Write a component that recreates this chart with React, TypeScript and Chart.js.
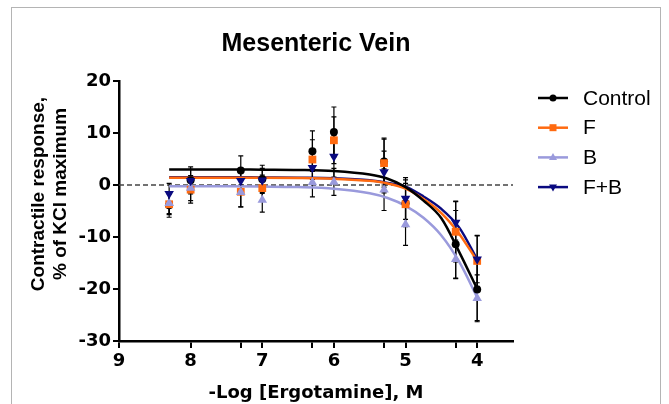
import React, { useEffect, useRef } from 'react';
import { Chart, registerables } from 'chart.js';

Chart.register(...registerables);

// ---- data ----
const doses = [8.3, 8, 7.3, 7, 6.3, 6, 5.3, 5, 4.3, 4];

const controlMean = [-3.9, 0.9, 2.8, 1.1, 6.5, 10.2, 4.5, -3.5, -11.4, -20.1];
const controlErr = [2.3, 2.6, 2.8, 2.7, 3.9, 4.8, 4.5, 4.5, 6.5, 6.0];
const fMean = [-3.7, -0.9, -1.3, -0.6, 4.9, 8.6, 4.2, -3.7, -9.0, -14.6];
const fErr = [2.0, 2.6, 2.9, 2.5, 3.8, 4.5, 4.6, 4.0, 5.8, 4.9];
const bMean = [-3.5, -0.6, -1.4, -2.9, 0.5, 0.6, -0.9, -7.6, -14.3, -21.8];
const bErr = [2.0, 2.4, 2.8, 2.3, 2.8, 2.6, 4.0, 4.0, 3.7, 4.5];
const fbMean = [-1.7, 0.8, 0.8, 0.9, 3.3, 5.5, 2.5, -2.6, -7.2, -14.3];
const fbErr = [2.0, 2.2, 2.3, 2.3, 3.0, 4.0, 4.0, 4.0, 4.1, 4.5];

// fitted curves
const fitX = [8.3, 7.5, 7, 6.5, 6, 5.5, 5.25, 5, 4.75, 4.5, 4.25, 4];
const controlFit = [3.0, 3.0, 2.95, 2.9, 2.7, 2.0, 1.2, -0.4, -3.0, -6.4, -12.9, -20.0];
const fFit = [1.4, 1.4, 1.4, 1.35, 1.2, 0.8, 0.3, -0.7, -2.7, -5.4, -9.4, -14.6];
const bFit = [-0.25, -0.25, -0.3, -0.4, -0.7, -1.6, -2.5, -4.0, -6.3, -9.7, -14.8, -21.6];
const fbFit = [1.5, 1.5, 1.45, 1.4, 1.3, 0.9, 0.4, -0.3, -2.2, -4.6, -8.2, -14.3];

const seriesNames = ['Control', 'F', 'B', 'F+B'];
const xTickValues = [9, 8, 7.3, 7, 6.3, 6, 5.3, 5, 4.3, 4];
const yTickValues = [-30, -20, -10, 0, 10, 20];

const xTitle = '-Log [Ergotamine], M';
const yTitle = ['Contractile response,', '% of KCl maximum'];
const chartTitle = 'Mesenteric Vein';

// ---- styles ----
const colors = ['#000000', '#FF6A10', '#9A9ADC', '#0A0A80'];
const pointStyles: any[] = ['circle', 'rect', 'triangle', 'triangle'];
const pointRotations = [0, 0, 0, 180];
const pointRadii = [4, 5.5, 5.5, 5.5];

const means = [controlMean, fMean, bMean, fbMean];
const errs = [controlErr, fErr, bErr, fbErr];
const fits = [controlFit, fFit, bFit, fbFit];

const toXY = (xs: number[], ys: number[]) => xs.map((x, i) => ({ x, y: ys[i] }));

const tickFont = { family: '"DejaVu Sans", sans-serif', size: 18, weight: 'bold' as const };

const decorPlugin = {
  id: 'decor',
  beforeDatasetsDraw(chart: any) {
    const { ctx, chartArea, scales } = chart;
    const y0 = scales.y.getPixelForValue(0);
    ctx.save();
    ctx.strokeStyle = '#444';
    ctx.lineWidth = 1.5;
    ctx.setLineDash([5, 3]);
    ctx.beginPath();
    ctx.moveTo(chartArea.left, y0);
    ctx.lineTo(chartArea.right, y0);
    ctx.stroke();
    ctx.setLineDash([]);
    // error bars
    ctx.strokeStyle = '#000';
    ctx.lineWidth = 1.2;
    chart.data.datasets.forEach((ds: any) => {
      if (!ds.errors) return;
      ds.data.forEach((p: any, j: number) => {
        const e = ds.errors[j];
        const px = scales.x.getPixelForValue(p.x);
        const top = scales.y.getPixelForValue(p.y + e);
        const bot = scales.y.getPixelForValue(p.y - e);
        ctx.beginPath();
        ctx.moveTo(px, top);
        ctx.lineTo(px, bot);
        ctx.moveTo(px - 2.5, top);
        ctx.lineTo(px + 2.5, top);
        ctx.moveTo(px - 2.5, bot);
        ctx.lineTo(px + 2.5, bot);
        ctx.stroke();
      });
    });
    ctx.restore();
  },
  afterDraw(chart: any) {
    const { ctx, chartArea } = chart;
    ctx.save();
    // main title
    ctx.fillStyle = '#000';
    ctx.textAlign = 'center';
    ctx.textBaseline = 'alphabetic';
    ctx.font = 'bold 25px "Liberation Sans", Arial, sans-serif';
    ctx.fillText(chartTitle, (chartArea.left + chartArea.right) / 2, 51);
    // x title
    ctx.font = 'bold 18px "DejaVu Sans", sans-serif';
    ctx.fillText(xTitle, (chartArea.left + chartArea.right) / 2, 398);
    // y title
    ctx.save();
    ctx.translate(39, 194);
    ctx.rotate(-Math.PI / 2);
    ctx.font = 'bold 19px "Liberation Sans", Arial, sans-serif';
    ctx.textBaseline = 'middle';
    ctx.fillText(yTitle[0], 0, 0);
    ctx.fillText(yTitle[1], 0, 22);
    ctx.restore();
    // legend
    const lx0 = 538;
    const lx1 = 568;
    const ly0 = 98;
    const step = 29.7;
    seriesNames.forEach((name, i) => {
      const y = ly0 + i * step;
      ctx.strokeStyle = colors[i];
      ctx.lineWidth = 2.5;
      ctx.beginPath();
      ctx.moveTo(lx0, y);
      ctx.lineTo(lx1, y);
      ctx.stroke();
      ctx.fillStyle = colors[i];
      const cx = (lx0 + lx1) / 2;
      ctx.beginPath();
      if (i === 0) {
        ctx.arc(cx, y, 3.5, 0, Math.PI * 2);
      } else if (i === 1) {
        ctx.rect(cx - 3.5, y - 3.5, 7, 7);
      } else if (i === 2) {
        ctx.moveTo(cx, y - 4.5);
        ctx.lineTo(cx + 4, y + 2.5);
        ctx.lineTo(cx - 4, y + 2.5);
        ctx.closePath();
      } else {
        ctx.moveTo(cx, y + 4.5);
        ctx.lineTo(cx + 4, y - 2.5);
        ctx.lineTo(cx - 4, y - 2.5);
        ctx.closePath();
      }
      ctx.fill();
      ctx.fillStyle = '#000';
      ctx.textAlign = 'left';
      ctx.textBaseline = 'middle';
      ctx.font = '21px "Liberation Sans", Arial, sans-serif';
      ctx.fillText(name, 583, y + 1);
    });
    ctx.restore();
  },
};

export default function App() {
  const ref = useRef<HTMLCanvasElement | null>(null);
  useEffect(() => {
    if (!ref.current) return;
    const datasets: any[] = [];
    seriesNames.forEach((name, i) => {
      datasets.push({
        label: name + ' fit',
        type: 'scatter',
        data: toXY(fitX, fits[i]),
        showLine: true,
        cubicInterpolationMode: 'monotone',
        borderColor: colors[i],
        borderWidth: 2.5,
        pointRadius: 0,
        fill: false,
        order: 10 + i,
      });
    });
    seriesNames.forEach((name, i) => {
      datasets.push({
        label: name,
        type: 'scatter',
        data: toXY(doses, means[i]),
        errors: errs[i],
        showLine: false,
        pointStyle: pointStyles[i],
        rotation: pointRotations[i],
        pointRadius: pointRadii[i],
        backgroundColor: colors[i],
        borderColor: colors[i],
        borderWidth: 0,
        order: 4 - i,
      });
    });
    const chart = new Chart(ref.current, {
      type: 'scatter',
      data: { datasets },
      plugins: [decorPlugin],
      options: {
        animation: false,
        responsive: false,
        events: [],
        layout: { padding: { left: 0, right: 156, top: 81, bottom: 0 } },
        plugins: {
          legend: { display: false },
          title: { display: false },
          tooltip: { enabled: false },
        },
        scales: {
          x: {
            type: 'linear',
            reverse: true,
            min: 3.5,
            max: 9,
            afterBuildTicks: (s: any) => {
              s.ticks = xTickValues.map((v) => ({ value: v }));
            },
            afterFit: (s: any) => {
              s.height = 63;
            },
            ticks: {
              autoSkip: false,
              maxRotation: 0,
              padding: 3,
              color: '#000',
              font: tickFont,
              callback: (v: any) => (Number.isInteger(Number(v)) ? String(v) : ''),
            },
            grid: {
              display: true,
              drawOnChartArea: false,
              drawTicks: true,
              tickLength: 7,
              color: '#000',
              lineWidth: 2,
            },
            border: { display: true, color: '#000', width: 2.5 },
          },
          y: {
            type: 'linear',
            min: -30,
            max: 20,
            afterBuildTicks: (s: any) => {
              s.ticks = yTickValues.map((v) => ({ value: v }));
            },
            afterFit: (s: any) => {
              s.width = 119;
            },
            ticks: {
              padding: 2,
              color: '#000',
              font: tickFont,
              callback: (v: any) => String(v),
            },
            grid: {
              display: true,
              drawOnChartArea: false,
              drawTicks: true,
              tickLength: 6,
              color: '#000',
              lineWidth: 2,
            },
            border: { display: true, color: '#000', width: 2.5 },
          },
        },
      } as any,
    });
    return () => chart.destroy();
  }, []);

  return (
    <div style={{ position: 'fixed', left: 0, top: 0, width: 669, height: 404, background: '#fff', overflow: 'hidden' }}>
      <div
        style={{
          position: 'absolute',
          left: 11,
          top: 7,
          width: 650,
          height: 430,
          border: '1px solid #b4b4b4',
          borderBottom: 'none',
          boxSizing: 'border-box',
        }}
      />
      <canvas ref={ref} width={669} height={404} style={{ position: 'absolute', left: 0, top: 0, width: 669, height: 404 }} />
    </div>
  );
}
